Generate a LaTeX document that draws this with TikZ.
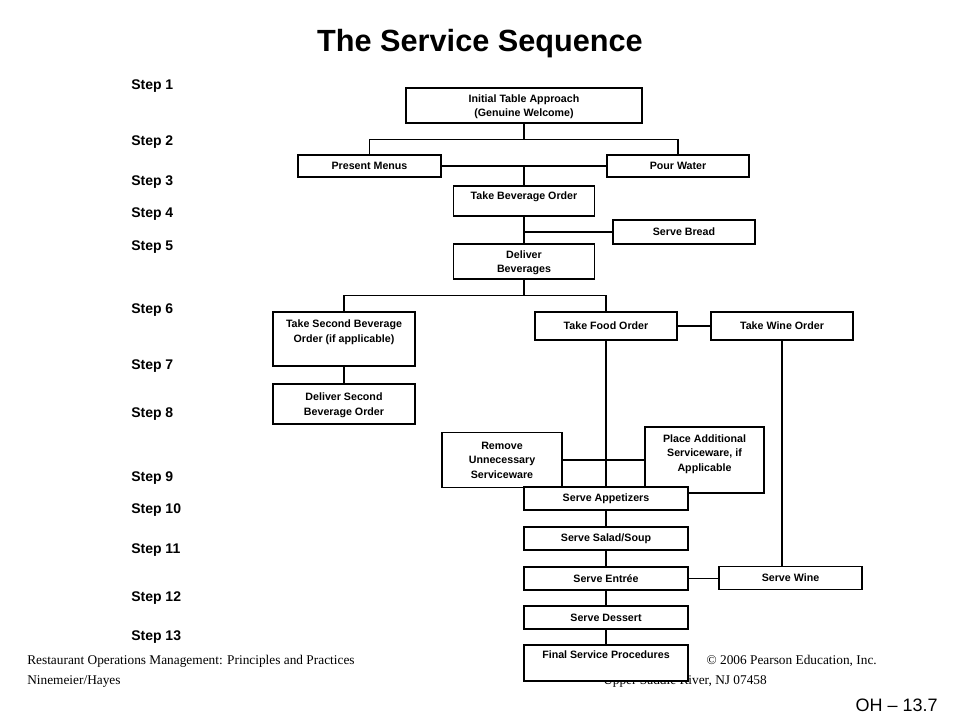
\documentclass[tikz,border=0pt]{standalone}
\usepackage{fontspec}
\setmainfont{Liberation Serif}
\newfontfamily\arialf{Liberation Sans}
\usetikzlibrary{calc}
\tikzset{
  box/.style={draw, line width=0.8pt, fill=white, inner sep=0pt, align=center,
    font=\arialf\bfseries\fontsize{8}{11}\selectfont},
  sz/.style 2 args={minimum width={#1*0.75pt}, minimum height={#2*0.75pt}},
  lift/.style={text depth=#1pt},
  steplbl/.style={anchor=west, inner sep=0pt, font=\arialf\bfseries\fontsize{10.5}{12}\selectfont},
  conn/.style={line width=0.8pt},
  foot/.style={inner sep=0pt, font=\fontsize{10}{12}\selectfont},
}
\begin{document}
\begin{tikzpicture}[x=0.75pt,y=-0.75pt]
\fill[white] (0,0) rectangle (960,720);
\useasboundingbox (0,0) rectangle (960,720);

% title
\node[font=\arialf\bfseries\fontsize{23}{28}\selectfont] (title) at (480,44) {The Service Sequence};

% step labels
\node[steplbl] (s1) at (131,86) {Step 1};
\node[steplbl] (s2) at (131,142) {Step 2};
\node[steplbl] (s3) at (131,182) {Step 3};
\node[steplbl] (s4) at (131,214) {Step 4};
\node[steplbl] (s5) at (131,247) {Step 5};
\node[steplbl] (s6) at (131,310) {Step 6};
\node[steplbl] (s7) at (131,366) {Step 7};
\node[steplbl] (s8) at (131,414) {Step 8};
\node[steplbl] (s9) at (131,478) {Step 9};
\node[steplbl] (s10) at (131,510) {Step 10};
\node[steplbl] (s11) at (131,550) {Step 11};
\node[steplbl] (s12) at (131,598) {Step 12};
\node[steplbl] (s13) at (131,637) {Step 13};

% footer
\node[foot, anchor=base west] (f1) at (27,664.5) {Restaurant Operations Management: Principles and Practices};
\node[foot, anchor=base west] (f2) at (27,684.5) {Ninemeier/Hayes};
\node[foot, anchor=base east] (f3) at (877,664.5) {© 2006 Pearson Education, Inc.};
\node[foot, anchor=base west] (f4) at (603,684.5) {Upper Saddle River, NJ 07458};
\node[anchor=east, inner sep=0pt, font=\arialf\fontsize{13.5}{16}\selectfont] (oh) at (938,705) {OH – 13.7};

% boxes
\node[box, sz={236}{35}, lift=0] (it) at (524,105.5) {Initial Table Approach\\(Genuine Welcome)};
\node[box, sz={143}{22}] (pm) at (369.5,166) {Present Menus};
\node[box, sz={142}{22}] (pw) at (678,166) {Pour Water};
\node[box, sz={141}{30}, lift=7.7] (tbo) at (524,201) {Take Beverage Order};
\node[box, sz={142}{24}] (sb) at (684,232) {Serve Bread};
\node[box, sz={141}{35}, lift=0] (db) at (524,261.5) {Deliver\\Beverages};
\node[box, sz={142}{54}, lift=11.5] (tsb) at (344,339) {Take Second Beverage\\Order (if applicable)};
\node[box, sz={142}{40}, lift=0] (dsb) at (344,404) {Deliver Second\\Beverage Order};
\node[box, sz={142}{28}] (tfo) at (606,326) {Take Food Order};
\node[box, sz={142}{28}] (two) at (782,326) {Take Wine Order};
\node[box, sz={120}{55}, lift=0] (ru) at (502,460) {Remove\\Unnecessary\\Serviceware};
\node[box, sz={119}{66}, lift=10.7] (pa) at (704.5,460) {Place Additional\\Serviceware, if\\Applicable};
\node[box, sz={164}{23}] (sa) at (606,498.5) {Serve Appetizers};
\node[box, sz={164}{23}] (ssp) at (606,538.5) {Serve Salad/Soup};
\node[box, sz={164}{23}] (se) at (606,578.5) {Serve Entrée};
\node[box, sz={164}{23}] (sd) at (606,617.5) {Serve Dessert};
\node[box, sz={164}{36}, lift=12.2] (fsp) at (606,663) {Final Service Procedures};
\node[box, sz={143}{23}] (sw) at (790.5,578) {Serve Wine};

% connectors
\draw[conn] (it.south) -- ($(it.south)+(0,16)$) coordinate (j1);
\draw[conn] (pm.north) |- (j1) -| (pw.north);
\draw[conn] (pm.east) -- (pw.west);
\draw[conn] (tbo.north) -- (tbo.north |- pm.east);
\draw[conn] (tbo.south) -- (db.north);
\draw[conn] (sb.west) -- (sb.west -| tbo.south);
\draw[conn] (db.south) -- ($(db.south)+(0,16)$) coordinate (j2);
\draw[conn] (tsb.north) |- (j2) -| (tfo.north);
\draw[conn] (tsb.south) -- (dsb.north);
\draw[conn] (tfo.east) -- (two.west);
\draw[conn] (tfo.south) -- (sa.north);
\draw[conn] (ru.east) -- (ru.east -| pa.west);
\draw[conn] (sa.south) -- (ssp.north);
\draw[conn] (ssp.south) -- (se.north);
\draw[conn] (se.south) -- (sd.north);
\draw[conn] (sd.south) -- (fsp.north);
\draw[conn] (two.south) -- (two.south |- sw.north);
\draw[conn] (se.east) -- (se.east -| sw.west);
\end{tikzpicture}
\end{document}
